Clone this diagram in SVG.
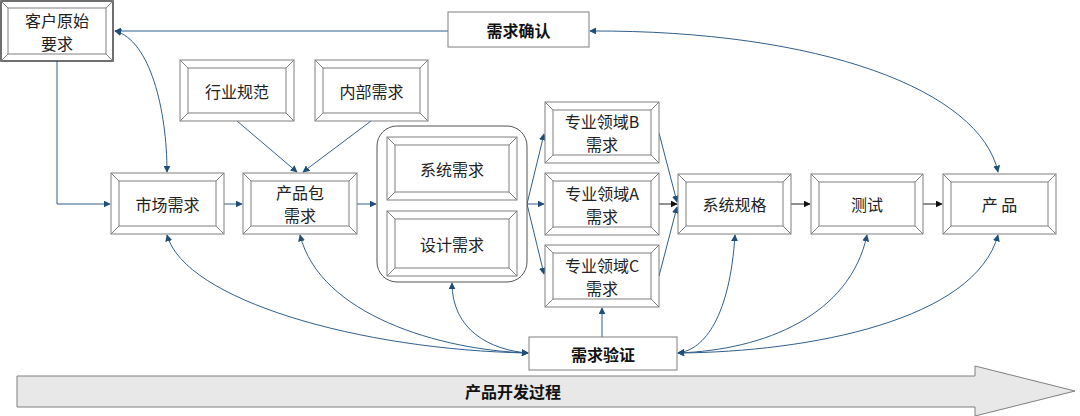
<svg xmlns="http://www.w3.org/2000/svg" width="1080" height="416" viewBox="0 0 1080 416">
<style>
.o{fill:#fff;stroke:#7f7f7f;stroke-width:1}
.i{fill:#fff;stroke:#7f7f7f;stroke-width:1}
.d{fill:none;stroke:#7f7f7f;stroke-width:1}
.t{font-family:"Noto Sans CJK SC","Noto Sans",sans-serif;font-size:16px;fill:#222;text-anchor:middle;dominant-baseline:central}
.b{font-weight:bold;fill:#111}
.c{fill:none;stroke:#2f5f8c;stroke-width:1}
.k{fill:none;stroke:#222;stroke-width:1}
</style>
<defs>
<marker id="a" viewBox="0 0 10 10" refX="9" refY="5" markerWidth="7" markerHeight="7" orient="auto-start-reverse" markerUnits="userSpaceOnUse"><path d="M0,0 L10,5 L0,10 z" fill="#1f4e79"/></marker>
<marker id="ak" viewBox="0 0 10 10" refX="9" refY="5" markerWidth="7" markerHeight="7" orient="auto" markerUnits="userSpaceOnUse"><path d="M0,0 L10,5 L0,10 z" fill="#111"/></marker>
</defs>

<g id="connectors">
<path class="c" d="M57,61 V204 H110" marker-end="url(#a)"/>
<path class="c" d="M224,204 H242" marker-end="url(#a)"/>
<path class="c" d="M357,204 H376" marker-end="url(#a)"/>
<path class="c" d="M237,121 L297,172" marker-end="url(#a)"/>
<path class="c" d="M371,121 L303,172" marker-end="url(#a)"/>
<path class="c" d="M527,204 L544,134" marker-end="url(#a)"/>
<path class="c" d="M527,204 H544" marker-end="url(#a)"/>
<path class="c" d="M527,204 L544,274" marker-end="url(#a)"/>
<path class="c" d="M659,133 L677,202" marker-end="url(#a)"/>
<path class="k" d="M659,204 H677" marker-end="url(#ak)"/>
<path class="c" d="M659,276 L677,207" marker-end="url(#a)"/>
<path class="k" d="M791,204 H810" marker-end="url(#ak)"/>
<path class="k" d="M923,204 H942" marker-end="url(#ak)"/>
<path class="c" d="M448,31 H115" marker-end="url(#a)"/>
<path class="c" d="M115,31 C150,40 167,110 167,172" marker-start="url(#a)" marker-end="url(#a)"/>
<path class="c" d="M590,31 C820,30 980,90 998,172" marker-start="url(#a)" marker-end="url(#a)"/>
<path class="c" d="M602,337 V308" marker-end="url(#a)"/>
<path class="c" d="M167,235 C185,300 360,350 528,353" marker-start="url(#a)" marker-end="url(#a)"/>
<path class="c" d="M300,235 C320,315 440,350 528,353" marker-start="url(#a)" marker-end="url(#a)"/>
<path class="c" d="M452,283 C452,330 490,350 528,353" marker-start="url(#a)" marker-end="url(#a)"/>
<path class="c" d="M735,235 C730,315 705,350 678,353" marker-start="url(#a)" marker-end="url(#a)"/>
<path class="c" d="M867,235 C850,315 765,350 678,353" marker-start="url(#a)" marker-end="url(#a)"/>
<path class="c" d="M998,235 C975,320 810,352 678,353" marker-start="url(#a)" marker-end="url(#a)"/>
</g>

<g id="n-kehu">
<rect x="1" y="1" width="112" height="60" fill="#fff" stroke="#404040" stroke-width="1.5"/>
<rect class="i" x="8" y="8" width="98" height="46"/>
<path class="d" d="M1,1 L8,8 M113,1 L106,8 M1,61 L8,54 M113,61 L106,54"/>
<text class="t" x="57" y="19.5">客户原始</text>
<text class="t" x="57" y="42.5">要求</text>
</g>

<g id="n-queren">
<rect x="448" y="12" width="141" height="35" fill="#fff" stroke="#7f7f7f"/>
<text class="t b" x="518.5" y="30">需求确认</text>
</g>

<g id="n-hangye">
<rect class="o" x="180" y="60" width="114" height="61"/>
<rect class="i" x="188" y="68" width="98" height="45"/>
<path class="d" d="M180,60 L188,68 M294,60 L286,68 M180,121 L188,113 M294,121 L286,113"/>
<text class="t" x="237" y="90.5">行业规范</text>
</g>

<g id="n-neibu">
<rect class="o" x="315" y="60" width="113" height="61"/>
<rect class="i" x="323" y="68" width="97" height="45"/>
<path class="d" d="M315,60 L323,68 M428,60 L420,68 M315,121 L323,113 M428,121 L420,113"/>
<text class="t" x="371.5" y="90.5">内部需求</text>
</g>

<g id="n-shichang">
<rect class="o" x="111" y="173" width="113" height="61"/>
<rect class="i" x="119" y="181" width="97" height="45"/>
<path class="d" d="M111,173 L119,181 M224,173 L216,181 M111,234 L119,226 M224,234 L216,226"/>
<text class="t" x="167.5" y="203.5">市场需求</text>
</g>

<g id="n-chanpinbao">
<rect class="o" x="243" y="173" width="114" height="61"/>
<rect class="i" x="251" y="181" width="98" height="45"/>
<path class="d" d="M243,173 L251,181 M357,173 L349,181 M243,234 L251,226 M357,234 L349,226"/>
<text class="t" x="300" y="192">产品包</text>
<text class="t" x="300" y="215">需求</text>
</g>

<g id="n-container">
<rect x="377" y="126" width="150" height="156" rx="20" fill="#fff" stroke="#555"/>
</g>

<g id="n-xitong">
<rect class="o" x="387" y="137" width="130" height="63"/>
<rect class="i" x="395" y="145" width="114" height="47"/>
<path class="d" d="M387,137 L395,145 M517,137 L509,145 M387,200 L395,192 M517,200 L509,192"/>
<text class="t" x="452" y="168.5">系统需求</text>
</g>

<g id="n-sheji">
<rect class="o" x="387" y="211" width="130" height="65"/>
<rect class="i" x="395" y="219" width="114" height="49"/>
<path class="d" d="M387,211 L395,219 M517,211 L509,219 M387,276 L395,268 M517,276 L509,268"/>
<text class="t" x="452" y="243.5">设计需求</text>
</g>

<g id="n-zyB">
<rect class="o" x="545" y="102" width="114" height="61"/>
<rect class="i" x="553" y="110" width="98" height="45"/>
<path class="d" d="M545,102 L553,110 M659,102 L651,110 M545,163 L553,155 M659,163 L651,155"/>
<text class="t" x="602" y="121">专业领域B</text>
<text class="t" x="602" y="144">需求</text>
</g>

<g id="n-zyA">
<rect class="o" x="545" y="173" width="114" height="62"/>
<rect class="i" x="553" y="181" width="98" height="46"/>
<path class="d" d="M545,173 L553,181 M659,173 L651,181 M545,235 L553,227 M659,235 L651,227"/>
<text class="t" x="602" y="192.5">专业领域A</text>
<text class="t" x="602" y="215.5">需求</text>
</g>

<g id="n-zyC">
<rect class="o" x="545" y="245" width="114" height="62"/>
<rect class="i" x="553" y="253" width="98" height="46"/>
<path class="d" d="M545,245 L553,253 M659,245 L651,253 M545,307 L553,299 M659,307 L651,299"/>
<text class="t" x="602" y="264.5">专业领域C</text>
<text class="t" x="602" y="287.5">需求</text>
</g>

<g id="n-guige">
<rect class="o" x="678" y="174" width="113" height="60"/>
<rect class="i" x="686" y="182" width="97" height="44"/>
<path class="d" d="M678,174 L686,182 M791,174 L783,182 M678,234 L686,226 M791,234 L783,226"/>
<text class="t" x="734.5" y="204">系统规格</text>
</g>

<g id="n-ceshi">
<rect class="o" x="811" y="174" width="112" height="60"/>
<rect class="i" x="819" y="182" width="96" height="44"/>
<path class="d" d="M811,174 L819,182 M923,174 L915,182 M811,234 L819,226 M923,234 L915,226"/>
<text class="t" x="867" y="204">测试</text>
</g>

<g id="n-chanpin">
<rect class="o" x="943" y="174" width="113" height="60"/>
<rect class="i" x="951" y="182" width="97" height="44"/>
<path class="d" d="M943,174 L951,182 M1056,174 L1048,182 M943,234 L951,226 M1056,234 L1048,226"/>
<text class="t" x="999.5" y="204" xml:space="preserve">产 品</text>
</g>

<g id="n-yanzheng">
<rect x="529" y="337" width="148" height="33" fill="#fff" stroke="#7f7f7f"/>
<text class="t b" x="603" y="353.5">需求验证</text>
</g>

<g id="n-process">
<path d="M17,376 H975 V366 L1075,391 L975,416 V407 H17 Z" fill="#e8e8e8" stroke="#7f7f7f"/>
<text class="t b" x="513" y="391">产品开发过程</text>
</g>
</svg>
